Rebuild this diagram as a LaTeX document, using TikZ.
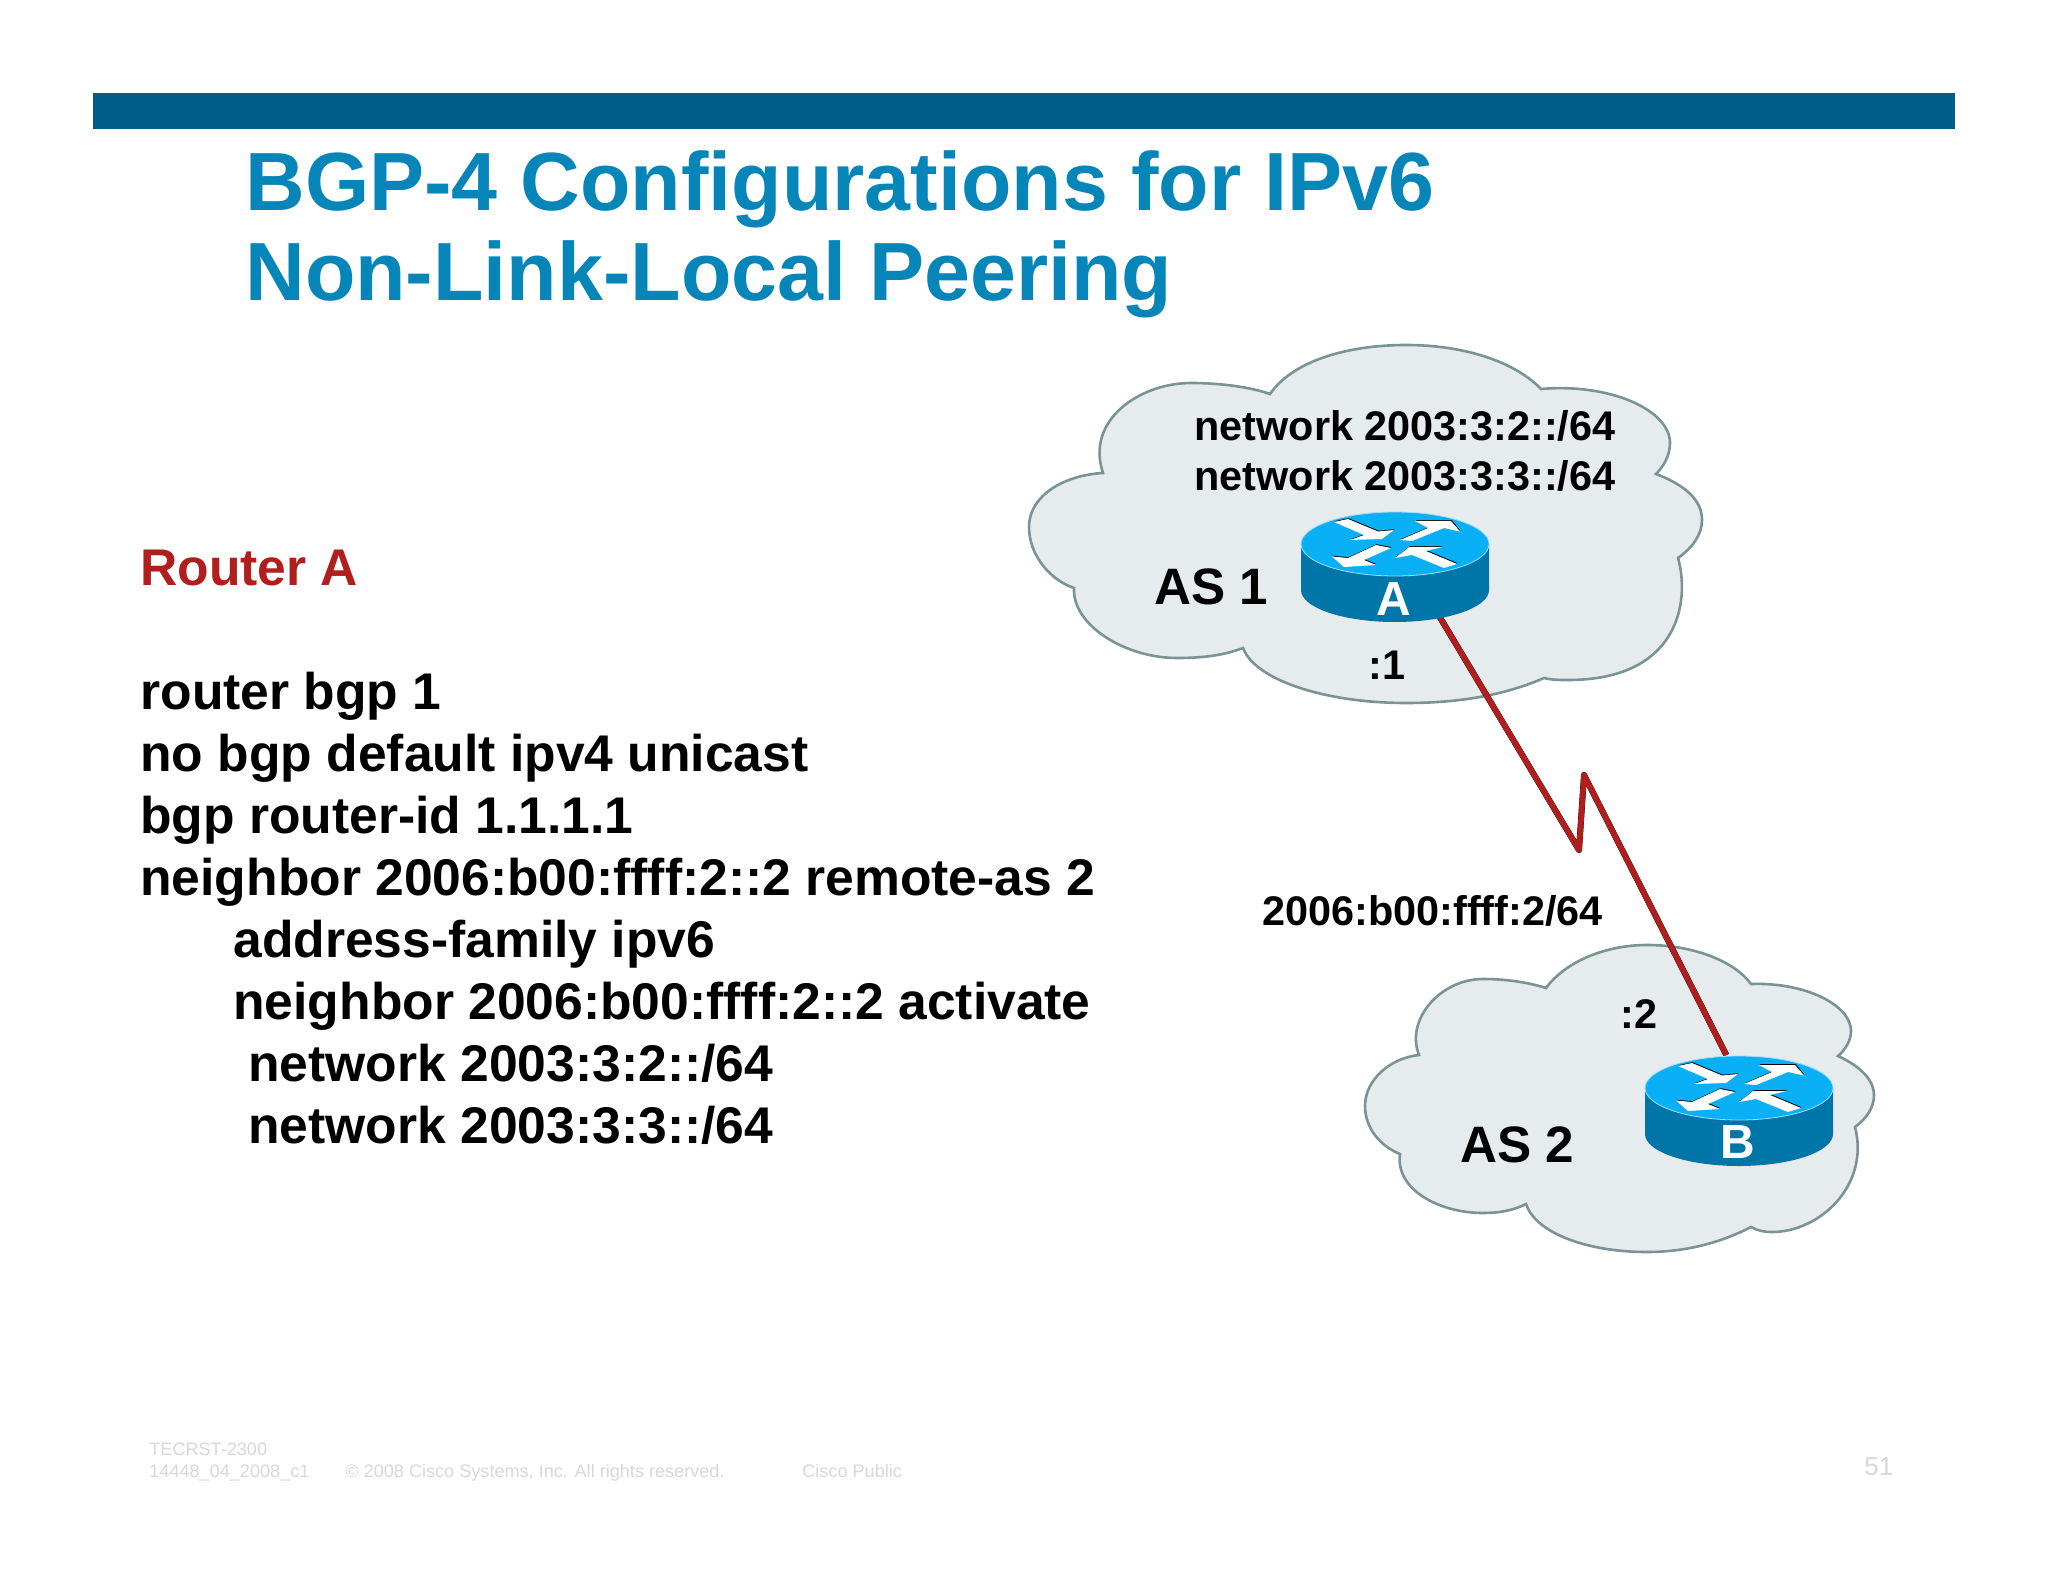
\documentclass[tikz,border=0pt]{standalone}
\usepackage{fontspec}
\setmainfont{Liberation Sans}
\usetikzlibrary{shapes.geometric}
\definecolor{barblue}{HTML}{005F8A}
\definecolor{titleblue}{HTML}{0685B8}
\definecolor{wanred}{HTML}{B01E1E}
\definecolor{cloudfill}{HTML}{E6ECEE}
\definecolor{cloudline}{HTML}{7A9494}
\definecolor{routertop}{HTML}{0AB0F5}
\definecolor{routerside}{HTML}{0076A8}
\definecolor{footgrey}{HTML}{D8D8DA}
\tikzset{
  titletext/.style={anchor=base west, inner sep=0, text=titleblue, font=\bfseries\fontsize{41.3}{50}\selectfont},
  bodytext/.style={anchor=base west, inner sep=0, font=\bfseries\fontsize{25.8}{30}\selectfont},
  labeltext/.style={anchor=base west, inner sep=0, font=\bfseries\fontsize{20.7}{24}\selectfont},
  astext/.style={anchor=base west, inner sep=0, font=\bfseries\fontsize{25.6}{30}\selectfont},
  routername/.style={anchor=base, inner sep=0, text=white, font=\bfseries\fontsize{24}{28}\selectfont},
  foottext/.style={anchor=base west, inner sep=0, text=footgrey, font=\fontsize{9.05}{11}\selectfont},
  cloudshape/.style={draw=cloudline, fill=cloudfill, line width=1.3pt},
  routerspot/.style={ellipse, inner sep=0, minimum width=94pt, minimum height=55pt},
  wanlink/.style={line width=2.8pt, line join=round, color=wanred},
  wanshadow/.style={line width=3pt, line join=round, color=black}
}
\begin{document}
\begin{tikzpicture}[x=.5pt,y=-.5pt]
  \useasboundingbox (0,0) rectangle (2048,1582);
  \fill[white] (0,0) rectangle (2048,1582);
  \fill[barblue] (93,93) rectangle (1955,129);

  \node[titletext] (title1) at (245,211) {BGP-4 Configurations for IPv6};
  \node[titletext] (title2) at (245,301) {Non-Link-Local Peering};

  \node[bodytext, text=wanred] (conf0) at (140,585) {Router A};
  \node[bodytext] (conf1) at (140,709) {router bgp 1};
  \node[bodytext] (conf2) at (140,771) {no bgp default ipv4 unicast};
  \node[bodytext] (conf3) at (140,833) {bgp router-id 1.1.1.1};
  \node[bodytext] (conf4) at (140,895) {neighbor 2006:b00:ffff:2::2 remote-as 2};
  \node[bodytext] (conf5) at (233,957) {address-family ipv6};
  \node[bodytext] (conf6) at (233,1019) {neighbor 2006:b00:ffff:2::2 activate};
  \node[bodytext] (conf7) at (248,1081) {network 2003:3:2::/64};
  \node[bodytext] (conf8) at (248,1143) {network 2003:3:3::/64};

  \draw[cloudshape] (1270,394)
    .. controls (1292,362) and (1345,345) .. (1406,345)
    .. controls (1465,345) and (1515,362) .. (1541,389)
    .. controls (1610,383) and (1670,410) .. (1670,443)
    .. controls (1670,455) and (1664,466) .. (1656,474)
    .. controls (1685,485) and (1702,500) .. (1702,520)
    .. controls (1702,535) and (1692,548) .. (1678,558)
    .. controls (1690,600) and (1680,680) .. (1568,680)
    .. controls (1560,680) and (1552,680) .. (1544,678)
    .. controls (1505,695) and (1460,703) .. (1406,703)
    .. controls (1325,703) and (1255,680) .. (1243,648)
    .. controls (1222,656) and (1200,658) .. (1177,658)
    .. controls (1125,658) and (1072,625) .. (1074,588)
    .. controls (1050,580) and (1029,555) .. (1029,527)
    .. controls (1029,495) and (1065,475) .. (1103,473)
    .. controls (1085,420) and (1140,383) .. (1191,383)
    .. controls (1220,383) and (1250,387) .. (1270,394) -- cycle;

  \draw[cloudshape] (1546,988)
    .. controls (1565,962) and (1605,945) .. (1647,945)
    .. controls (1695,945) and (1735,962) .. (1751,984)
    .. controls (1805,982) and (1851,1005) .. (1851,1031)
    .. controls (1851,1040) and (1846,1049) .. (1838,1056)
    .. controls (1860,1066) and (1874,1080) .. (1874,1095)
    .. controls (1874,1108) and (1866,1119) .. (1855,1127)
    .. controls (1870,1185) and (1820,1232) .. (1772,1232)
    .. controls (1765,1232) and (1758,1231) .. (1751,1227)
    .. controls (1720,1243) and (1685,1252) .. (1647,1252)
    .. controls (1585,1252) and (1535,1232) .. (1526,1204)
    .. controls (1512,1211) and (1498,1213) .. (1483,1213)
    .. controls (1440,1213) and (1395,1190) .. (1400,1154)
    .. controls (1380,1146) and (1365,1128) .. (1365,1106)
    .. controls (1365,1080) and (1390,1058) .. (1419,1055)
    .. controls (1405,1020) and (1440,979) .. (1483,979)
    .. controls (1505,979) and (1527,982) .. (1546,988) -- cycle;

  \node[routerspot] (routerA) at (1395,567) {};
  \node[routerspot] (routerB) at (1739,1110) {};
  \coordinate (kinkLow) at (1579,850);
  \coordinate (kinkHigh) at (1584,775);

  \draw[wanshadow] (routerA.-48) -- (kinkLow) -- (kinkHigh) -- (routerB.103);
  \draw[wanlink, shift={(-1.5,-0.5)}] (routerA.-48) -- (kinkLow) -- (kinkHigh) -- (routerB.103);

  \foreach \rx/\ry in {1395/544,1739/1088} {
    \begin{scope}[shift={(\rx,\ry)}]
      \fill[routerside] (-94,0) -- (-94,46) arc [start angle=180, end angle=360, x radius=47pt, y radius=16pt] -- (94,0) -- cycle;
      \draw[routertop!40!white, fill=routertop, line width=.4pt] (0,0) ellipse (47pt and 16pt);
      \foreach \arrowpts in {
        {(-61,-22) -- (-47,-25) -- (-17,-12.5) -- (-1,-14) -- (-13,-5) -- (-45,-4) -- (-31,-9)},
        {(5,-4) -- (33,-16) -- (20,-23) -- (56,-23) -- (65,-12.5) -- (49,-16) -- (17,-3)},
        {(-4,4) -- (-31,16) -- (-19,21) -- (-51,23) -- (-63,12.5) -- (-47,14) -- (-19,1)},
        {(0,14) -- (14,3) -- (47.5,3) -- (31,7) -- (62,20) -- (49,24) -- (17,11)}} {
        \fill[black] [shift={(.6,-.8)}] \arrowpts -- cycle;
        \fill[white] \arrowpts -- cycle;
      }
    \end{scope}
  }

  \node[routername] (nameA) at (1394,615) {A};
  \node[routername] (nameB) at (1738,1158) {B};

  \node[labeltext] (netA1) at (1194,441) {network 2003:3:2::/64};
  \node[labeltext] (netA2) at (1194,491) {network 2003:3:3::/64};
  \node[astext] (as1) at (1154,604) {AS 1};
  \node[labeltext] (hostA) at (1368,679) {:1};
  \node[labeltext] (prefix) at (1262,925) {2006:b00:ffff:2/64};
  \node[labeltext] (hostB) at (1620,1028) {:2};
  \node[astext] (as2) at (1460,1162) {AS 2};

  \node[foottext] (foot1) at (149,1455) {TECRST-2300};
  \node[foottext] (foot2) at (149,1477) {14448\_04\_2008\_c1};
  \node[foottext] (foot3) at (345,1477) {© 2008 Cisco Systems, Inc. All rights reserved.};
  \node[foottext] (foot4) at (802,1477) {Cisco Public};
  \node[foottext, font=\fontsize{13}{15}\selectfont] (pagenum) at (1864,1475) {51};
\end{tikzpicture}
\end{document}
